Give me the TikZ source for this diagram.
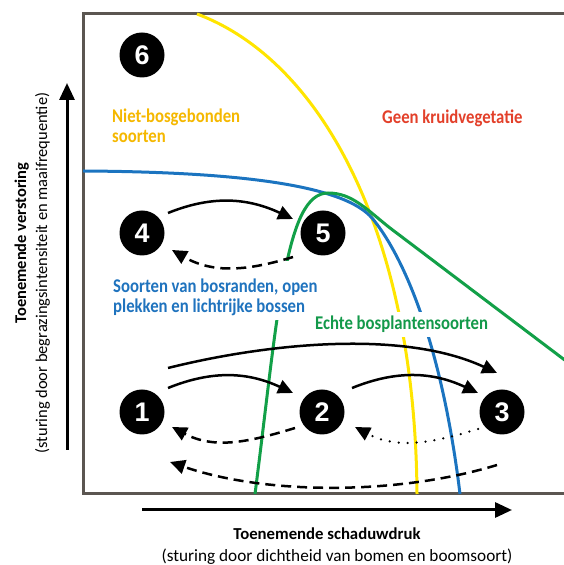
\documentclass[tikz,border=0pt]{standalone}
\usepackage{fontspec}
\setmainfont{Carlito}
\newfontfamily\numfont{Liberation Sans}
\newfontfamily\labelfont[FakeStretch=0.86]{Carlito}
\usetikzlibrary{arrows.meta}
\definecolor{boxgray}{HTML}{5B5651}
\definecolor{curveyellow}{HTML}{FFE500}
\definecolor{curveblue}{HTML}{1B74C0}
\definecolor{curvegreen}{HTML}{12A048}
\definecolor{txtyellow}{HTML}{F5B800}
\definecolor{txtred}{HTML}{E3402A}
\definecolor{txtblue}{HTML}{1F73BE}
\definecolor{txtgreen}{HTML}{13994A}
\begin{document}
\begin{tikzpicture}[x=1bp,y=1bp,
  stage/.style={circle,fill=black,text=white,minimum size=45bp,inner sep=0pt,
    font=\numfont\bfseries\fontsize{27}{27}\selectfont},
  fwd/.style={line width=2.5bp,-{Triangle[length=15bp,width=14bp]}},
  back/.style={fwd,dash pattern=on 10bp off 6bp},
  dotback/.style={fwd,line cap=round,dash pattern=on 0bp off 9bp},
  axis/.style={line width=3bp,-{Triangle[length=17bp,width=15bp]}},
  curve/.style={line width=3bp},
  lbl/.style={font=\labelfont\bfseries\fontsize{19.5}{21}\selectfont,
    align=left,anchor=base west,inner sep=4bp,fill=white},
  axlbl/.style={font=\fontsize{16.5}{18}\selectfont,anchor=base,inner sep=0pt}]
\useasboundingbox (0,0) rectangle (564,565);
% frame
\draw[boxgray,line width=3bp] (566,551) -- (83,551) -- (83,71) -- (566,71);
% species curves
\draw[curve,curveyellow] (197,551) .. controls (320,505) and (415,335) .. (417,71);
\draw[curve,curveblue] (83,394) .. controls (250,393) and (345,378) .. (372,347)
  .. controls (398,316) and (440,235) .. (460,71);
\draw[curve,curvegreen] (255,71) .. controls (278,250) and (285,372) .. (328,372)
  .. controls (352,372) and (366,356) .. (390,337) -- (566,204);
% labels (base = last line)
\node[lbl,text=txtyellow] (nietbos) at (108,422) {Niet-bosgebonden\\soorten};
\node[lbl,text=txtred] (geenkruid) at (378,441) {Geen kruidvegetatie};
\node[lbl,text=txtblue] (bosrand) at (109,252) {\rule{0pt}{27bp}Soorten van bosranden, open\\plekken en lichtrijke bossen};
\node[lbl,text=txtgreen] (echtbos) at (311,235) {Echte bosplantensoorten};
% stages
\node[stage] (n6) at (142,510) {6};
\node[stage] (n4) at (142,332) {4};
\node[stage] (n5) at (323,332) {5};
\node[stage] (n1) at (142,153) {1};
\node[stage] (n2) at (322,153) {2};
\node[stage] (n3) at (502,153) {3};
% transitions
\draw[fwd] ([shift={(26,20)}]n4.center) to[out=22,in=155] ([shift={(-30,14)}]n5.center);
\draw[back] ([shift={(-30,-24)}]n5.center) to[out=197,in=330] ([shift={(30,-17)}]n4.center);
\draw[fwd] ([shift={(26,44)}]n1.center) to[out=14,in=155,looseness=0.8] ([shift={(-5,39)}]n3.center);
\draw[fwd] ([shift={(26,24)}]n1.center) to[out=22,in=155] ([shift={(-29,19)}]n2.center);
\draw[fwd] ([shift={(30,24)}]n2.center) to[out=22,in=155] ([shift={(-24,19)}]n3.center);
\draw[back] ([shift={(-27,-16)}]n2.center) to[out=197,in=332] ([shift={(30,-15)}]n1.center);
\draw[dotback] ([shift={(-24,-17)}]n3.center) to[out=197,in=332] ([shift={(33,-15)}]n2.center);
\draw[back] ([shift={(-5,-53)}]n3.center) to[out=197,in=341,looseness=0.8] ([shift={(28,-50)}]n1.center);
% axes
\coordinate (ytail) at (67,115);
\coordinate (yhead) at (67,482);
\coordinate (xtail) at (142,55);
\coordinate (xhead) at (512,55);
\draw[axis] (ytail) -- (yhead);
\draw[axis] (xtail) -- (xhead);
\node[axlbl,font=\bfseries\fontsize{16.8}{18}\selectfont] (xname) at (327,25) {Toenemende schaduwdruk};
\node[axlbl,font=\fontsize{17.3}{18}\selectfont] (xnote) at (337,3) {(sturing door dichtheid van bomen en boomsoort)};
\node[axlbl,rotate=90,font=\bfseries\fontsize{16.5}{18}\selectfont] (yname) at (26,322) {Toenemende verstoring};
\node[axlbl,rotate=90] (ynote) at (47,292) {(sturing door begrazingsintensiteit en maaifrequentie)};
\end{tikzpicture}
\end{document}
